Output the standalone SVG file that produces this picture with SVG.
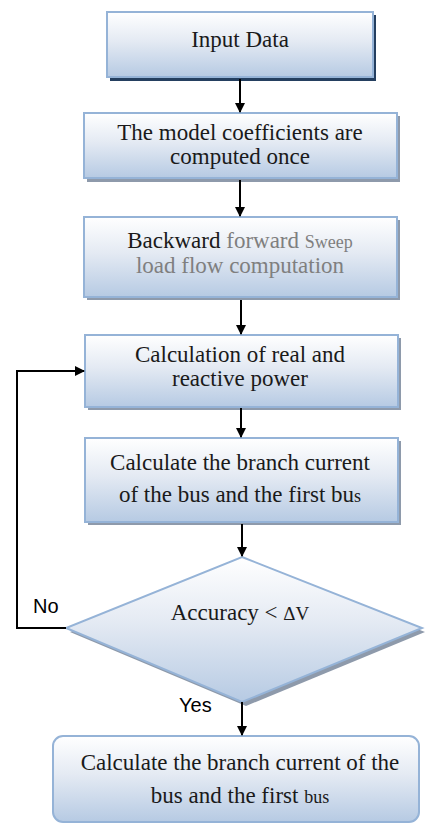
<svg xmlns="http://www.w3.org/2000/svg" width="426" height="825" viewBox="0 0 426 825">
<defs>
<linearGradient id="g" x1="0" y1="0" x2="0" y2="1">
<stop offset="0" stop-color="#ffffff"/>
<stop offset="0.45" stop-color="#e4eaf3"/>
<stop offset="1" stop-color="#b6cae3"/>
</linearGradient>
<marker id="ah" markerWidth="10" markerHeight="10" refX="9" refY="5" orient="auto" markerUnits="userSpaceOnUse" viewBox="0 0 10 10">
<path d="M0,0 L10,5 L0,10 z" fill="#000"/>
</marker>
<style>
.box{fill:url(#g);stroke:#95b3d7;stroke-width:2}
.sh{fill:#8e9aab}
.t{font-family:"Liberation Serif","Times New Roman",serif;font-size:23px;fill:#1a1a1a;text-anchor:middle}
.gr{fill:#7f7f7f}
.lab{font-family:"Liberation Sans",Arial,sans-serif;font-size:20px;fill:#000}
.c{stroke:#000;stroke-width:2;fill:none}
</style>
</defs>
<g id="n1">
<rect x="110" y="15" width="266" height="66" fill="#243f60"/>
<rect x="107" y="12" width="266" height="65" class="box"/>
<text class="t" x="240" y="47">Input Data</text>
</g>
<g id="n2">
<rect x="87" y="116" width="313" height="66" class="sh"/>
<rect x="84" y="113" width="313" height="65" class="box"/>
<text class="t" x="240" y="140">The model coefficients are</text>
<text class="t" x="240" y="164">computed once</text>
</g>
<g id="n3">
<rect x="87" y="220" width="313" height="80" class="sh"/>
<rect x="84" y="217" width="313" height="80" class="box"/>
<text class="t" x="240" y="248">Backward <tspan class="gr">forward </tspan><tspan class="gr" font-size="18">Sweep</tspan></text>
<text class="t gr" x="240" y="273">load flow computation</text>
</g>
<g id="n4">
<rect x="88" y="338" width="313" height="72" class="sh"/>
<rect x="85" y="335" width="313" height="72" class="box"/>
<text class="t" x="240" y="362">Calculation of real and</text>
<text class="t" x="240" y="386">reactive power</text>
</g>
<g id="n5">
<rect x="88" y="441" width="313" height="84" class="sh"/>
<rect x="85" y="438" width="313" height="84" class="box"/>
<text class="t" x="240" y="470">Calculate the branch current</text>
<text class="t" x="240" y="502">of the bus and the first bu<tspan font-size="18">s</tspan></text>
</g>
<g id="n6">
<polygon points="244,561 425,632 246,706 70,632" class="sh"/>
<polygon points="242,557 422,628 242,702 66,628" class="box"/>
<text class="t" x="240" y="620">Accuracy &lt; <tspan font-size="19">ΔV</tspan></text>
</g>
<g id="n7">
<rect x="53" y="736" width="366" height="86" rx="10" ry="10" class="box"/>
<text class="t" x="240" y="770">Calculate the branch current of the</text>
<text class="t" x="240" y="803">bus and the first <tspan font-size="18">bus</tspan></text>
</g>
<g id="connectors">
<line x1="240" y1="79" x2="240" y2="112" class="c" marker-end="url(#ah)"/>
<line x1="240" y1="180" x2="240" y2="216" class="c" marker-end="url(#ah)"/>
<line x1="241" y1="300" x2="241" y2="334" class="c" marker-end="url(#ah)"/>
<line x1="241" y1="408" x2="241" y2="437" class="c" marker-end="url(#ah)"/>
<line x1="242" y1="524" x2="242" y2="556" class="c" marker-end="url(#ah)"/>
<line x1="242" y1="702" x2="242" y2="735" class="c" marker-end="url(#ah)"/>
<polyline points="66,628 17,628 17,371 84,371" class="c" marker-end="url(#ah)"/>
<text class="lab" x="33" y="613">No</text>
<text class="lab" x="179" y="712">Yes</text>
</g>
</svg>
